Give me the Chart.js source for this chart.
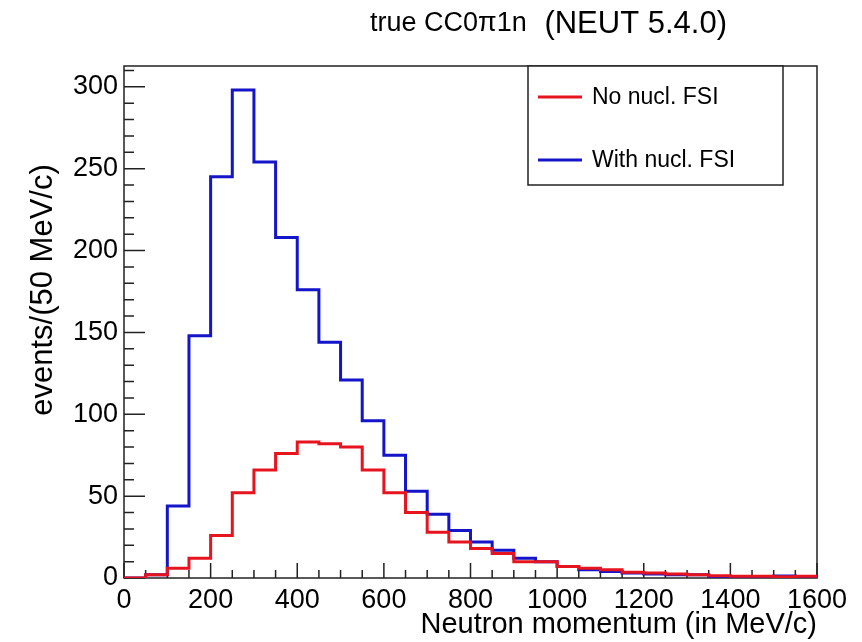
<!DOCTYPE html>
<html>
<head>
<meta charset="utf-8">
<title>true CC0π1n (NEUT 5.4.0)</title>
<script src="https://cdn.jsdelivr.net/npm/chart.js@4.4.1/dist/chart.umd.min.js"></script>
<style>
  html, body { margin: 0; padding: 0; background: #fff; }
  #wrap { width: 862px; height: 642px; }
</style>
</head>
<body>
<div id="wrap"><canvas id="neutronChart" width="862" height="642"></canvas></div>
<script>
// Histogram bins: lower edge of each 50 MeV/c bin
const binEdges = [0, 50, 100, 150, 200, 250, 300, 350, 400, 450, 500, 550, 600, 650, 700, 750,
                  800, 850, 900, 950, 1000, 1050, 1100, 1150, 1200, 1250, 1300, 1350, 1400, 1450, 1500, 1550];
const xMax = 1600;

// Counts per bin
const noFsiCounts = [0, 2, 6, 12, 26, 52, 66, 76, 83, 82, 80, 66, 52, 40, 28, 22,
                     18, 15, 10, 10, 7, 6, 5, 3.5, 3, 2.4, 2, 1.4, 1, 1, 0.8, 1];
const withFsiCounts = [0, 2, 44, 148, 245, 298, 254, 208, 176, 144, 121, 96, 75, 53, 39, 29,
                       22, 17, 12, 10, 7, 5, 4, 3, 2.4, 2, 2, 0.4, 0.6, 0.6, 1.2, 0.5];

// Labelled axis ticks
const xTickValues = [0, 200, 400, 600, 800, 1000, 1200, 1400, 1600];
const yTickValues = [0, 50, 100, 150, 200, 250, 300];

const seriesLabels = ["No nucl. FSI", "With nucl. FSI"];
const seriesColors = ["#e6141e", "#1414c8"];

const titleMain = "true CC0\u03C01n";
const titleTag = "(NEUT 5.4.0)";
const xTitle = "Neutron momentum (in MeV/c)";
const yTitle = "events/(50 MeV/c)";

const FONT = "'Liberation Sans', Arial, Helvetica, sans-serif";

// step points: one per bin edge, last value repeated at the right edge
function toSteps(counts) {
    const pts = binEdges.map((x, i) => ({ x: x, y: counts[i] }));
    pts.push({ x: xMax, y: counts[counts.length - 1] });
    return pts;
}

// ROOT-like frame, inward ticks, titles and boxed legend
const rootStyle = {
    id: "rootStyle",
    beforeDatasetsDraw(chart) {
        const { ctx, chartArea: a, scales } = chart;
        const x = scales.x, y = scales.y;
        ctx.save();
        ctx.strokeStyle = "#222";
        ctx.lineWidth = 1.5;
        ctx.strokeRect(a.left, a.top, a.right - a.left, a.bottom - a.top);
        ctx.beginPath();
        for (let v = 0; v <= xMax; v += 50) {
            const px = x.getPixelForValue(v);
            const len = v % 200 === 0 ? 15 : 8;
            ctx.moveTo(px, a.bottom);
            ctx.lineTo(px, a.bottom - len);
        }
        for (let v = 0; v <= y.max; v += 10) {
            const py = y.getPixelForValue(v);
            const len = v % 50 === 0 ? 21 : 10;
            ctx.moveTo(a.left, py);
            ctx.lineTo(a.left + len, py);
        }
        ctx.stroke();
        ctx.restore();
    },
    afterDatasetsDraw(chart) {
        const { ctx, chartArea: a } = chart;
        const box = { left: 528, top: a.top, right: a.right - 34, bottom: 185 };
        ctx.save();
        ctx.fillStyle = "#fff";
        ctx.fillRect(box.left, box.top, box.right - box.left, box.bottom - box.top);
        ctx.strokeStyle = "#222";
        ctx.lineWidth = 1.5;
        ctx.strokeRect(box.left, box.top, box.right - box.left, box.bottom - box.top);
        ctx.font = "23px " + FONT;
        ctx.textBaseline = "middle";
        ctx.textAlign = "left";
        const rowY = [97, 160];
        chart.data.datasets.forEach((ds, i) => {
            ctx.strokeStyle = ds.borderColor;
            ctx.lineWidth = 3;
            ctx.beginPath();
            ctx.moveTo(box.left + 10, rowY[i]);
            ctx.lineTo(box.left + 54, rowY[i]);
            ctx.stroke();
            ctx.fillStyle = "#000";
            ctx.fillText(ds.label, box.left + 64, rowY[i] + 1);
        });
        ctx.restore();
    },
    afterDraw(chart) {
        const { ctx } = chart;
        ctx.save();
        ctx.fillStyle = "#000";
        ctx.textBaseline = "middle";
        ctx.font = "27px " + FONT;
        ctx.textAlign = "left";
        ctx.fillText(titleMain, 370, 24);
        ctx.textAlign = "right";
        ctx.font = "31px " + FONT;
        ctx.fillText(titleTag, 727, 24);
        // y axis title, rotated
        ctx.translate(43, 290);
        ctx.rotate(-Math.PI / 2);
        ctx.textAlign = "center";
        ctx.font = "31px " + FONT;
        ctx.fillText(yTitle, 0, 0);
        ctx.restore();
    }
};

const ctx = document.getElementById("neutronChart").getContext("2d");
new Chart(ctx, {
    type: "line",
    data: {
        datasets: [
            {
                label: seriesLabels[0],
                data: toSteps(noFsiCounts),
                borderColor: seriesColors[0],
                borderWidth: 3,
                stepped: true,
                pointRadius: 0,
                fill: false
            },
            {
                label: seriesLabels[1],
                data: toSteps(withFsiCounts),
                borderColor: seriesColors[1],
                borderWidth: 3,
                stepped: true,
                pointRadius: 0,
                fill: false
            }
        ]
    },
    options: {
        responsive: false,
        devicePixelRatio: 1,
        animation: false,
        layout: { padding: { left: 0, right: 45, top: 66, bottom: 0 } },
        plugins: {
            legend: { display: false },
            title: { display: false },
            tooltip: { enabled: false }
        },
        scales: {
            x: {
                type: "linear",
                min: 0,
                max: xMax,
                grid: { display: false, drawTicks: false },
                border: { display: false },
                ticks: {
                    maxRotation: 0,
                    autoSkip: false,
                    padding: 6,
                    color: "#000",
                    font: { family: FONT, size: 27 },
                    callback: v => String(v)
                },
                afterBuildTicks(scale) {
                    scale.ticks = xTickValues.map(v => ({ value: v }));
                },
                title: {
                    display: true,
                    text: xTitle,
                    align: "end",
                    color: "#000",
                    padding: { top: 0, bottom: 0 },
                    font: { family: FONT, size: 29 }
                },
                afterFit(scale) { scale.height = 64; }
            },
            y: {
                min: 0,
                max: 312.7,
                grid: { display: false, drawTicks: false },
                border: { display: false },
                ticks: {
                    padding: 6,
                    color: "#000",
                    font: { family: FONT, size: 27 },
                    callback: v => String(v)
                },
                afterBuildTicks(scale) {
                    scale.ticks = yTickValues.map(v => ({ value: v }));
                },
                afterFit(scale) { scale.width = 124; }
            }
        }
    },
    plugins: [rootStyle]
});
</script>
</body>
</html>
